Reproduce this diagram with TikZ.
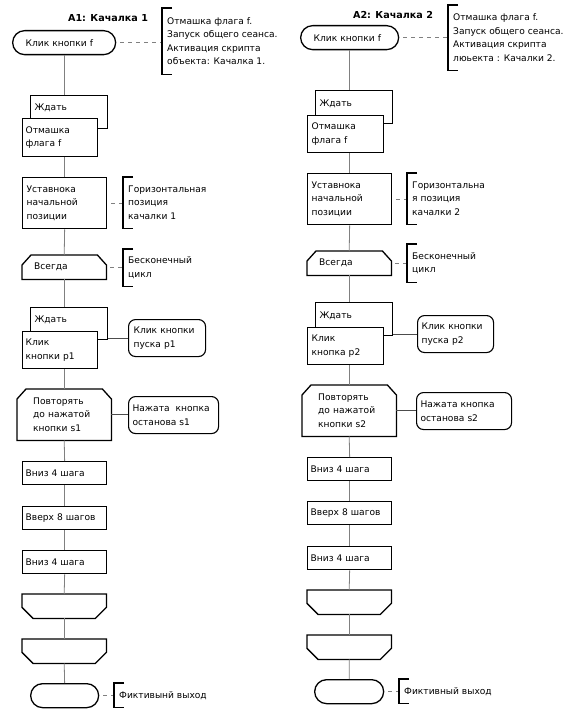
\documentclass[tikz,border=0pt]{standalone}
\usepackage{fontspec}
\setmainfont{DejaVu Sans}

\begin{document}
\begin{tikzpicture}[x=1pt, y=-1pt,
  font=\fontsize{9.1}{13.5}\selectfont,
  every node/.style={anchor=north west, align=left, inner ysep=0pt},
  blk/.style={draw, line width=1.3pt, fill=white},
  blkline/.style={line width=1.3pt, line join=miter},
  proc/.style={blk, rectangle, inner xsep=3pt, text width=78pt, minimum height=23pt},
  term/.style={blk, rounded corners=12pt, minimum height=24pt},
  side/.style={blk, line width=1.1pt, rounded corners=7pt, minimum height=37pt},
  loopbeg/.style={rectangle, minimum height=24pt},
  loopend/.style={rectangle, inner xsep=0pt, text width=84pt, minimum height=24pt},
  title/.style={anchor=center, font=\fontsize{9.6}{13.5}\selectfont\bfseries},
  note/.style={inner xsep=5pt},
  bracket/.style={line width=1.3pt},
  flow/.style={draw=gray, line width=0.8pt},
  sidelink/.style={draw=black!70, line width=0.8pt},
  dashlink/.style={draw=gray, line width=0.8pt, dash pattern=on 4pt off 4pt, shorten <=4pt}]
\useasboundingbox (0,0) rectangle (585,727);

% A1
\node[title] (title1) at (108,18) {A1: Качалка 1};
\node[term, inner xsep=13pt, text width=77pt] (start1) at (12,30) {Клик кнопки f};
\node[note, minimum height=66pt] (note1) at (162,8) {Отмашка флага f.\\Запуск общего сеанса.\\Активация скрипта\\объекта: Качалка 1.};
\node[proc, inner xsep=4pt, text width=69pt, text height=15pt, text depth=18pt] (wait1b) at (30,95) {Ждать};
\node[proc, text width=69pt, minimum height=38pt] (wait1f) at (22,118) {Отмашка\\флага f};
\node[proc, inner xsep=4pt, text width=76pt, minimum height=51pt] (set1) at (22,177) {Уставнока\\начальной\\позиции};
\node[note, minimum height=51pt] (note2) at (123,177) {Горизонтальная\\позиция\\качалки 1};
\node[loopbeg, inner xsep=12pt, text width=60pt] (loop1) at (22,255) {Всегда};
\node[note, minimum height=37pt] (note3) at (123,249) {Бесконечный\\цикл};
\node[proc, inner xsep=4pt, text width=69pt, text height=15pt, text depth=17pt] (wait2b) at (30,307) {Ждать};
\node[proc, text width=69pt, minimum height=37pt] (wait2f) at (22,331) {Клик\\кнопки p1};
\node[side, inner xsep=5pt, text width=67pt] (pusk1) at (128,319) {Клик кнопки\\пуска p1};
\node[loopbeg, inner xsep=16pt, text width=62pt, minimum height=51pt] (rep1) at (17,389) {Повторять\\до нажатой\\кнопки s1};
\node[side, inner xsep=4pt, text width=82pt] (stop1) at (128,396) {Нажата\ \ кнопка\\останова s1};
\node[proc] (down1a) at (22,461) {Вниз 4 шага};
\node[proc] (up1) at (22,506) {Вверх 8 шагов};
\node[proc] (down1b) at (22,550) {Вниз 4 шага};
\node[loopend] (end1a) at (22,594) {};
\node[loopend] (end1b) at (22,639) {};
\node[term, minimum width=68pt] (fin1) at (30,683) {};
\node[note, minimum height=24pt] (note4) at (114,683) {Фиктивынй выход};

\draw[blkline] (loop1.south west) -- ([yshift=-10pt]loop1.north west) -- ([xshift=9pt]loop1.north west) -- ([xshift=-9pt]loop1.north east) -- ([yshift=-10pt]loop1.north east) -- (loop1.south east) -- cycle;
\draw[blkline] (rep1.south west) -- ([yshift=-10pt]rep1.north west) -- ([xshift=9pt]rep1.north west) -- ([xshift=-9pt]rep1.north east) -- ([yshift=-10pt]rep1.north east) -- (rep1.south east) -- cycle;
\draw[blkline] (end1a.north west) -- ([yshift=11pt]end1a.south west) -- ([xshift=11pt]end1a.south west) -- ([xshift=-11pt]end1a.south east) -- ([yshift=11pt]end1a.south east) -- (end1a.north east) -- cycle;
\draw[blkline] (end1b.north west) -- ([yshift=11pt]end1b.south west) -- ([xshift=11pt]end1b.south west) -- ([xshift=-11pt]end1b.south east) -- ([yshift=11pt]end1b.south east) -- (end1b.north east) -- cycle;

\draw[flow] (start1.south) -- (start1.south |- wait1b.north);
\draw[flow] (set1.north |- wait1f.south) -- (set1.north);
\draw[flow] (set1.south) -- (loop1.north);
\draw[flow] (loop1.south) -- (loop1.south |- wait2b.north);
\draw[flow] (rep1.north |- wait2f.south) -- (rep1.north);
\draw[flow] (rep1.south) -- (down1a.north);
\draw[flow] (down1a.south) -- (up1.north);
\draw[flow] (up1.south) -- (down1b.north);
\draw[flow] (down1b.south) -- (end1a.north);
\draw[flow] (end1a.south) -- (end1b.north);
\draw[flow] (end1b.south) -- (fin1.north);
\draw[sidelink] (wait2b.east |- pusk1.west) -- (pusk1.west);
\draw[sidelink] (rep1.east) -- (rep1.east -| stop1.west);
\draw[dashlink] (start1.east) -- (start1.east -| note1.west);
\draw[dashlink] (set1.east) -- (set1.east -| note2.west);
\draw[dashlink] (loop1.east) -- (loop1.east -| note3.west);
\draw[dashlink] (fin1.east) -- (fin1.east -| note4.west);
\draw[bracket] ([xshift=10pt]note1.north west) -- (note1.north west) -- (note1.south west) -- ([xshift=10pt]note1.south west);
\draw[bracket] ([xshift=10pt]note2.north west) -- (note2.north west) -- (note2.south west) -- ([xshift=10pt]note2.south west);
\draw[bracket] ([xshift=10pt]note3.north west) -- (note3.north west) -- (note3.south west) -- ([xshift=10pt]note3.south west);
\draw[bracket] ([xshift=10pt]note4.north west) -- (note4.north west) -- (note4.south west) -- ([xshift=10pt]note4.south west);

% A2
\node[title] (title2) at (393,15) {A2: Качалка 2};
\node[term, inner xsep=13pt, text width=72pt] (start2) at (300,25) {Клик кнопки f};
\node[note, minimum height=65pt] (note5) at (448,5) {Отмашка флага f.\\Запуск общего сеанса.\\Активация скрипта\\люьекта : Качалки 2.};
\node[proc, inner xsep=4pt, text width=69pt, text height=16pt, text depth=17pt] (wait3b) at (315,90) {Ждать};
\node[proc, inner xsep=4pt, text width=68pt, minimum height=37pt] (wait3f) at (307,115) {Отмашка\\флага f};
\node[proc, inner xsep=4pt, text width=76pt, minimum height=51pt] (set2) at (307,173) {Уставнока\\начальной\\позиции};
\node[note, minimum height=51pt] (note6) at (407,173) {Горизонтальна\\я позиция\\качалки 2};
\node[loopbeg, inner xsep=12pt, text width=60pt] (loop2) at (307,251) {Всегда};
\node[note, minimum height=38pt] (note7) at (407,244) {Бесконечный\\цикл};
\node[proc, inner xsep=4pt, text width=69pt, text height=16pt, text depth=17pt] (wait4b) at (315,302) {Ждать};
\node[proc, inner xsep=4pt, text width=68pt, minimum height=37pt] (wait4f) at (307,327) {Клик\\кнопка p2};
\node[side, inner xsep=4pt, text width=68pt] (pusk2) at (417,315) {Клик кнопки\\пуска p2};
\node[loopbeg, inner xsep=16pt, text width=62pt, minimum height=51pt] (rep2) at (302,385) {Повторять\\до нажатой\\кнопки s2};
\node[side, inner xsep=4pt, text width=87pt] (stop2) at (416,392) {Нажата кнопка\\останова s2};
\node[proc] (down2a) at (307,457) {Вниз 4 шага};
\node[proc] (up2) at (307,501) {Вверх 8 шагов};
\node[proc] (down2b) at (307,546) {Вниз 4 шага};
\node[loopend] (end2a) at (307,590) {};
\node[loopend] (end2b) at (307,635) {};
\node[term, minimum width=69pt] (fin2) at (314,679) {};
\node[note, minimum height=24pt] (note8) at (399,679) {Фиктивный выход};

\draw[blkline] (loop2.south west) -- ([yshift=-10pt]loop2.north west) -- ([xshift=9pt]loop2.north west) -- ([xshift=-9pt]loop2.north east) -- ([yshift=-10pt]loop2.north east) -- (loop2.south east) -- cycle;
\draw[blkline] (rep2.south west) -- ([yshift=-10pt]rep2.north west) -- ([xshift=9pt]rep2.north west) -- ([xshift=-9pt]rep2.north east) -- ([yshift=-10pt]rep2.north east) -- (rep2.south east) -- cycle;
\draw[blkline] (end2a.north west) -- ([yshift=11pt]end2a.south west) -- ([xshift=11pt]end2a.south west) -- ([xshift=-11pt]end2a.south east) -- ([yshift=11pt]end2a.south east) -- (end2a.north east) -- cycle;
\draw[blkline] (end2b.north west) -- ([yshift=11pt]end2b.south west) -- ([xshift=11pt]end2b.south west) -- ([xshift=-11pt]end2b.south east) -- ([yshift=11pt]end2b.south east) -- (end2b.north east) -- cycle;

\draw[flow] (start2.south) -- (start2.south |- wait3b.north);
\draw[flow] (set2.north |- wait3f.south) -- (set2.north);
\draw[flow] (set2.south) -- (loop2.north);
\draw[flow] (loop2.south) -- (loop2.south |- wait4b.north);
\draw[flow] (rep2.north |- wait4f.south) -- (rep2.north);
\draw[flow] (rep2.south) -- (down2a.north);
\draw[flow] (down2a.south) -- (up2.north);
\draw[flow] (up2.south) -- (down2b.north);
\draw[flow] (down2b.south) -- (end2a.north);
\draw[flow] (end2a.south) -- (end2b.north);
\draw[flow] (end2b.south) -- (fin2.north);
\draw[sidelink] (wait4b.east |- pusk2.west) -- (pusk2.west);
\draw[sidelink] (rep2.east) -- (rep2.east -| stop2.west);
\draw[dashlink] (start2.east) -- (start2.east -| note5.west);
\draw[dashlink] (set2.east) -- (set2.east -| note6.west);
\draw[dashlink] (loop2.east) -- (loop2.east -| note7.west);
\draw[dashlink] (fin2.east) -- (fin2.east -| note8.west);
\draw[bracket] ([xshift=10pt]note5.north west) -- (note5.north west) -- (note5.south west) -- ([xshift=10pt]note5.south west);
\draw[bracket] ([xshift=10pt]note6.north west) -- (note6.north west) -- (note6.south west) -- ([xshift=10pt]note6.south west);
\draw[bracket] ([xshift=10pt]note7.north west) -- (note7.north west) -- (note7.south west) -- ([xshift=10pt]note7.south west);
\draw[bracket] ([xshift=10pt]note8.north west) -- (note8.north west) -- (note8.south west) -- ([xshift=10pt]note8.south west);
\end{tikzpicture}
\end{document}
